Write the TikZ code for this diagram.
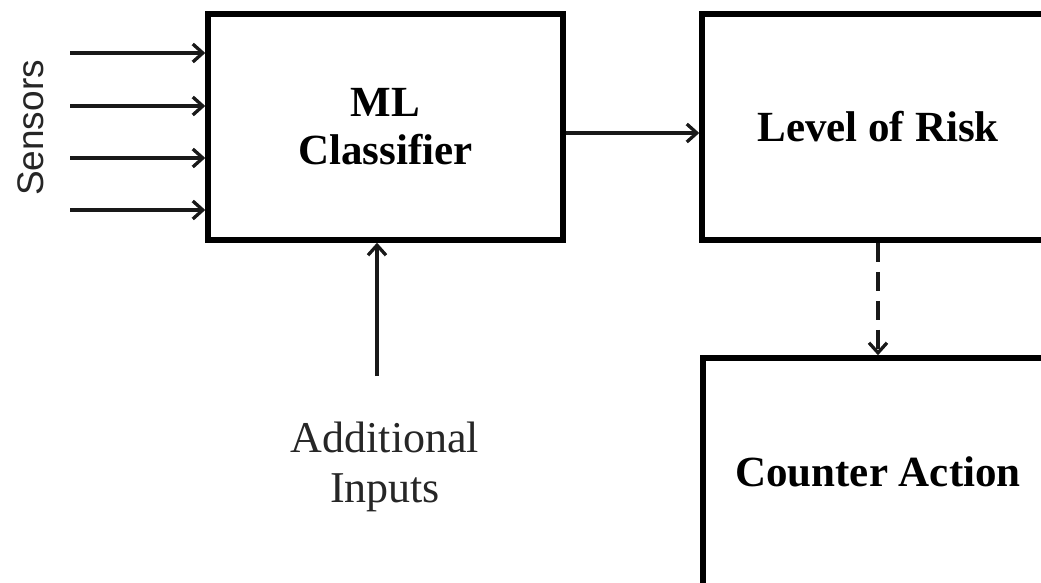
\documentclass[tikz,border=0pt]{standalone}
\usepackage{fontspec}
\setmainfont{Liberation Serif}
\newfontfamily\sensfont{Liberation Sans}
\usetikzlibrary{arrows.meta}
\begin{document}
\begin{tikzpicture}[x=1pt,y=-1pt,
  blockbox/.style={draw=black, line width=5.5pt, minimum width=355pt, minimum height=226pt, inner sep=0pt, align=center, font=\fontsize{43}{48}\selectfont\bfseries},
  conn/.style={line width=3.5pt, draw=black!90, -{Straight Barb[length=10pt,width=18pt,line width=3.3pt]}},
  dconn/.style={conn, dash pattern=on 19pt off 10pt}
]
\useasboundingbox (0,0) rectangle (1041,583);
\clip (0,0) rectangle (1041,583);
\fill[white] (0,0) rectangle (1041,583);
\node[blockbox] (ml) at (385.5,127) {ML\\Classifier};
\node[blockbox, minimum width=352pt] (risk) at (878,127) {Level of Risk};
\node[blockbox, minimum width=350pt, minimum height=228pt] (ca) at (878,472) {Counter Action};
\node[rotate=90, font=\sensfont\fontsize{37}{40}\selectfont, text=black!85] (sens) at (31,128) {Sensors};
\coordinate (s1) at (70,53);
\coordinate (s2) at (70,106);
\coordinate (s3) at (70,158);
\coordinate (s4) at (70,210);
\foreach \s in {s1,s2,s3,s4} \draw[conn] (\s) -- (\s -| ml.west);
\coordinate (ai) at (377,376);
\node[align=center, font=\fontsize{44}{50}\selectfont, text=black!85] (addl) at (385,467) {Additional\\Inputs};
\draw[conn] (ai) -- (ai |- ml.south);
\draw[conn] (ml.east |- 0,133) -- (risk.west |- 0,133);
\draw[dconn] (risk.south) -- (ca.north);
\end{tikzpicture}
\end{document}
